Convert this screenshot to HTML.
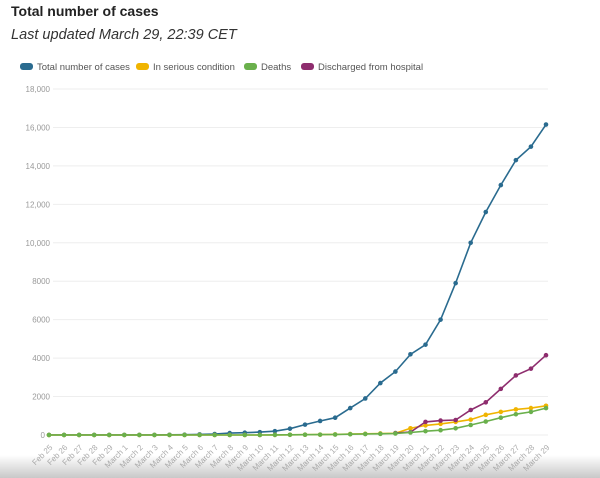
<!DOCTYPE html>
<html><head><meta charset="utf-8"><style>
body{margin:0;width:600px;height:478px;overflow:hidden;background:#fff;font-family:"Liberation Sans",sans-serif;position:relative}
#title{position:absolute;left:11px;top:3px;font-size:14px;font-weight:bold;color:#222}
#sub{position:absolute;left:11px;top:27px;font-size:14.5px;font-style:italic;color:#333}
#shade{position:absolute;left:0;top:455px;width:600px;height:23px;background:linear-gradient(#fff,#c8c8c8)}
svg{position:absolute;left:0;top:0}
</style></head><body>
<div id="title">Total number of cases</div>
<div id="sub">Last updated March 29, 22:39 CET</div>
<div id="shade"></div>
<svg id="chart" width="600" height="478"></svg>
<script>
const categories=["Feb 25","Feb 26","Feb 27","Feb 28","Feb 29","March 1","March 2","March 3","March 4","March 5","March 6","March 7","March 8","March 9","March 10","March 11","March 12","March 13","March 14","March 15","March 16","March 17","March 18","March 19","March 20","March 21","March 22","March 23","March 24","March 25","March 26","March 27","March 28","March 29"];
const casesData=[5,5,5,5,5,5,5,5,10,15,30,50,100,120,150,200,330,540,730,900,1400,1900,2700,3300,4200,4700,6000,7900,10000,11600,13000,14300,15000,16150];
const seriousData=[0,0,0,0,0,0,0,0,0,0,0,0,0,0,0,5,10,15,20,30,50,60,80,90,350,500,580,680,800,1050,1200,1330,1400,1520];
const deathsData=[0,0,0,0,0,0,0,0,0,0,0,0,0,0,0,5,10,15,20,25,40,50,60,80,130,200,250,350,520,700,900,1080,1200,1400];
const dischargedData=[null,null,null,null,null,null,null,null,null,null,null,null,null,null,null,null,null,null,null,null,null,null,null,100,150,680,750,780,1300,1700,2400,3100,3450,4150];
const yTicks=[0,2000,4000,6000,8000,10000,12000,14000,16000,18000];
const yTickLabels=["0","2000","4000","6000","8000","10,000","12,000","14,000","16,000","18,000"];
const seriesNames=["Total number of cases","In serious condition","Deaths","Discharged from hospital"];
const NS="http://www.w3.org/2000/svg";
const svg=document.getElementById('chart');
const x0=49,x1=546,y0=435,y1=89,ymax=18000;
const xs=i=>x0+i*(x1-x0)/(categories.length-1);
const ys=v=>y0-v/ymax*(y0-y1);
function mk(t,a){const e=document.createElementNS(NS,t);for(const k in a)e.setAttribute(k,a[k]);svg.appendChild(e);return e;}
yTicks.forEach((v,i)=>{
 const g=mk('line',{x1:53,x2:548,y1:ys(v),y2:ys(v),stroke:'#eee','stroke-width':1});
 
 
 const t=mk('text',{x:v===0?45:50,y:ys(v)+3,'text-anchor':'end','font-size':8,fill:'#999'});
 t.textContent=yTickLabels[i];
 
 
});
categories.forEach((c,i)=>{
 const t=mk('text',{x:xs(i)+4,y:448,'text-anchor':'end','font-size':8,fill:'#aaa',transform:`rotate(-45 ${xs(i)+4} 448)`});
 t.textContent=c;
 
 
});
const colors=["#2a6b8f","#f0b400","#6ab04c","#8e2d6e"];
const sets=[casesData,seriousData,deathsData,dischargedData];
[0,1,3,2].forEach(s=>{
 const d=sets[s];let p='';
 d.forEach((v,i)=>{if(v===null)return;p+=(p?'L':'M')+xs(i).toFixed(1)+','+ys(v).toFixed(1);});
 const l=mk('path',{d:p,fill:'none',stroke:colors[s],'stroke-width':1.6});
 
 
 d.forEach((v,i)=>{if(v===null)return;
  const c=mk('circle',{cx:xs(i),cy:ys(v),r:2.3,fill:colors[s]});
  
  
 });
});
const lx=[20,136,244,301];
seriesNames.forEach((n,i)=>{
 const r=mk('rect',{x:lx[i],y:63,width:13,height:7,rx:3,fill:colors[i]});
 
 
 const t=mk('text',{x:lx[i]+17,y:70,'font-size':9.5,fill:'#555'});
 t.textContent=n;
 
 
});
</script>
</body></html>
